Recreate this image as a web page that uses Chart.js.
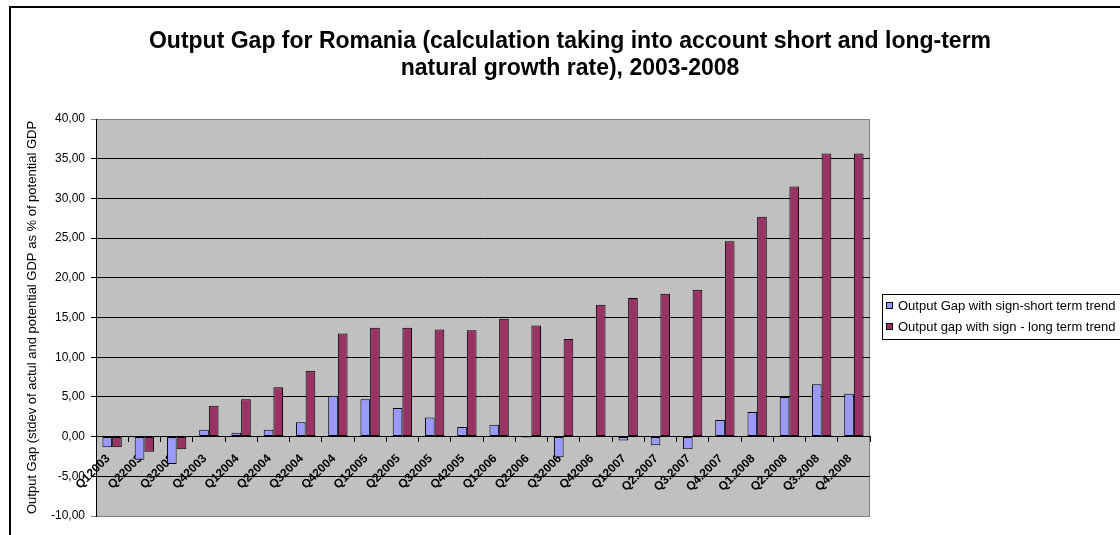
<!DOCTYPE html>
<html>
<head>
<meta charset="utf-8">
<script src="https://cdn.jsdelivr.net/npm/chart.js@4.4.1/dist/chart.umd.min.js"></script>
<style>
  html, body { margin: 0; padding: 0; background: #ffffff; }
  #wrap { width: 1120px; height: 535px; position: relative; }
</style>
</head>
<body>
<div id="wrap"><canvas id="c" width="1120" height="535"></canvas></div>
<script>
const chartTitle = [
  "Output Gap for Romania (calculation taking into account short and long-term",
  "natural growth rate), 2003-2008"
];
const yAxisTitle = "Output Gap (stdev of actul and potential GDP as % of potential GDP";
const categories = ["Q12003","Q22003","Q32003","Q42003","Q12004","Q22004","Q32004","Q42004",
  "Q12005","Q22005","Q32005","Q42005","Q12006","Q22006","Q32006","Q42006",
  "Q12007","Q2.2007","Q3.2007","Q4.2007","Q1.2008","Q2.2008","Q3.2008","Q4.2008"];
const seriesNames = ["Output Gap with sign-short term trend", "Output gap with sign - long term trend"];
const shortTermGap = [-1.35,-2.9,-3.45,0.85,0.5,0.85,1.8,5.15,4.7,3.6,2.4,1.2,
  1.5,-0.1,-2.6,0,-0.5,-1.1,-1.6,2.1,3.1,5.0,6.6,5.4];
const longTermGap = [-1.35,-1.9,-1.6,3.9,4.7,6.2,8.3,13.0,13.7,13.7,13.5,13.4,
  14.85,14.0,12.3,16.6,17.45,18.0,18.5,24.6,27.7,31.5,35.65,35.65];
const yMin = -10, yMax = 40, yStep = 5;

const FONT = "'Liberation Sans', Arial, sans-serif";

const decorPlugin = {
  id: 'decor',
  beforeDraw(chart) {
    const {ctx, chartArea: a} = chart;
    ctx.save();
    ctx.fillStyle = '#ffffff';
    ctx.fillRect(0, 0, chart.width, chart.height);
    ctx.fillStyle = '#C0C0C0';
    ctx.fillRect(a.left, a.top, a.right - a.left, a.bottom - a.top);
    ctx.strokeStyle = '#808080';
    ctx.lineWidth = 1;
    ctx.strokeRect(a.left + 0.5, a.top + 0.5, a.right - a.left - 1, a.bottom - a.top);
    ctx.restore();
  },
  afterDraw(chart) {
    const {ctx} = chart;
    ctx.save();
    // outer frame
    ctx.strokeStyle = '#000';
    ctx.lineWidth = 2;
    ctx.strokeRect(10, 7, 1300, 700);
    // title
    ctx.fillStyle = '#000';
    ctx.font = "bold 23px " + FONT;
    ctx.textAlign = 'center';
    ctx.textBaseline = 'middle';
    ctx.fillText(chartTitle[0], 570, 42);
    ctx.fillText(chartTitle[1], 570, 69);
    // legend
    ctx.lineWidth = 1;
    ctx.strokeRect(882.5, 294.5, 400, 45);
    ctx.font = "13px " + FONT;
    ctx.textAlign = 'left';
    const ys = [305.5, 326.5];
    chart.data.datasets.forEach((ds, i) => {
      ctx.fillStyle = ds.backgroundColor;
      ctx.fillRect(886, ys[i] - 3.5, 7, 7);
      ctx.strokeStyle = '#000';
      ctx.strokeRect(886.5, ys[i] - 3, 6, 6);
      ctx.fillStyle = '#000';
      ctx.fillText(ds.label, 898, ys[i] + 0.5);
    });
    ctx.restore();
  }
};

new Chart(document.getElementById('c'), {
  type: 'bar',
  data: {
    labels: categories,
    datasets: [
      { label: seriesNames[0], data: shortTermGap, backgroundColor: '#9999FF',
        borderColor: '#000', borderWidth: 1, borderSkipped: false,
        categoryPercentage: 0.6, barPercentage: 1.0 },
      { label: seriesNames[1], data: longTermGap, backgroundColor: '#993366',
        borderColor: '#000', borderWidth: 1, borderSkipped: false,
        categoryPercentage: 0.6, barPercentage: 1.0 }
    ]
  },
  options: {
    responsive: false,
    animation: false,
    devicePixelRatio: 1,
    layout: { padding: { left: 0, top: 119, right: 250, bottom: 19 } },
    plugins: { legend: { display: false }, title: { display: false }, tooltip: { enabled: false } },
    scales: {
      x: {
        position: { y: 0 },
        offset: true,
        grid: { display: true, drawOnChartArea: false, drawTicks: true, tickLength: 5, color: '#000', offset: true },
        border: { display: true, color: '#000', width: 1 },
        ticks: { autoSkip: false, maxRotation: 45, minRotation: 45, padding: 10, labelOffset: -4,
          color: '#000', font: { family: FONT, size: 12, weight: 'bold' } }
      },
      y: {
        min: yMin, max: yMax,
        afterFit(scale) { scale.width = 96; },
        grid: { color: (c) => (c.tick && (c.tick.value === yMax || c.tick.value === yMin)) ? '#808080' : '#000',
          tickLength: 5, drawTicks: true },
        border: { display: true, color: '#000', width: 1 },
        ticks: { stepSize: yStep, padding: 6, color: '#000',
          font: { family: FONT, size: 12 },
          callback: (v) => v.toFixed(2).replace('.', ',') },
        title: { display: true, text: yAxisTitle, color: '#000',
          font: { family: FONT, size: 13 }, padding: { top: 25, bottom: 0 } }
      }
    }
  },
  plugins: [decorPlugin]
});
</script>
</body>
</html>
